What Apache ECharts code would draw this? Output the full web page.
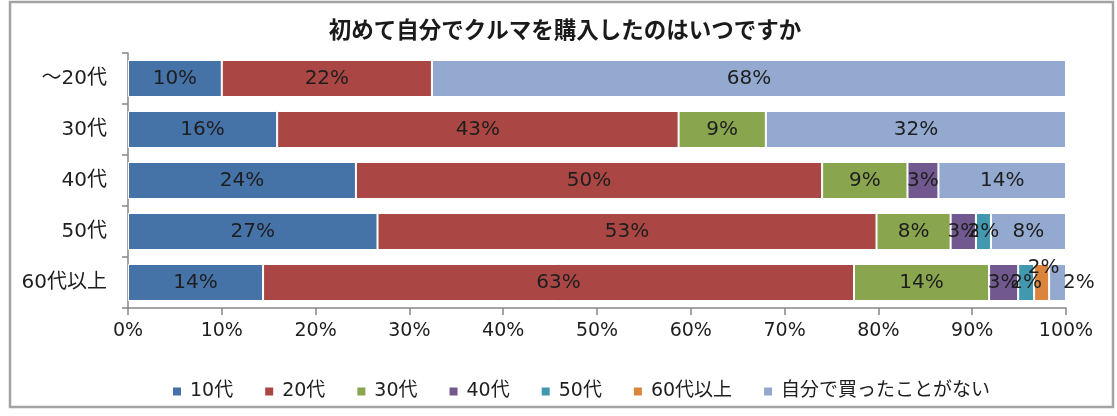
<!DOCTYPE html>
<html>
<head>
<meta charset="utf-8">
<script src="https://cdn.jsdelivr.net/npm/echarts@6/dist/echarts.min.js"></script>
<style>html,body{margin:0;padding:0;background:#fff}#c{width:1117px;height:416px}</style>
</head>
<body>
<div id="c"></div>
<script>
const categories = ['～20代', '30代', '40代', '50代', '60代以上'];
const seriesNames = ['10代', '20代', '30代', '40代', '50代', '60代以上', '自分で買ったことがない'];
const v10 = [10.0, 15.9, 24.3, 26.6, 14.4];
const v20 = [22.4, 42.8, 49.7, 53.2, 63.0];
const v30 = [0, 9.3, 9.1, 7.9, 14.4];
const v40 = [0, 0, 3.3, 2.7, 3.1];
const v50 = [0, 0, 0, 1.6, 1.7];
const v60 = [0, 0, 0, 0, 1.6];
const vNone = [67.6, 32.0, 13.6, 8.0, 1.8];
const xTicks = [0, 10, 20, 30, 40, 50, 60, 70, 80, 90, 100];
const colors = ['#4572A7', '#AA4643', '#89A54E', '#71588F', '#4198AF', '#DB843D', '#93A9CF'];

const allValues = [v10, v20, v30, v40, v50, v60, vNone];
const labelFont = 'DejaVu Sans, Noto Sans CJK JP, sans-serif';

const chart = echarts.init(document.getElementById('c'), null, {renderer: 'canvas'});

const series = allValues.map((vals, si) => ({
  name: seriesNames[si],
  type: 'bar',
  stack: 'total',
  barWidth: 37,
  itemStyle: {color: colors[si], borderColor: '#ffffff', borderWidth: 1},
  label: {
    show: true,
    position: 'inside',
    color: '#1e1e1e',
    fontSize: 20,
    fontFamily: labelFont,
    formatter: p => (p.value == null ? '' : Math.round(p.value) + '%')
  },
  data: vals.map((v, ci) => {
    const item = {value: v === 0 ? null : v};
    if (ci === 4 && si === 5) item.label = {offset: [2, -15]};
    if (ci === 4 && si === 6) item.label = {position: 'right', distance: -3};
    return item;
  })
}));

chart.setOption({
  animation: false,
  color: colors,
  graphic: [
    {type: 'rect', shape: {x: 10, y: 2, width: 1103, height: 405},
     style: {fill: 'none', stroke: '#a3a3a3', lineWidth: 2.5}, silent: true},
    {type: 'text', x: 565, y: 29,
     style: {text: '初めて自分でクルマを購入したのはいつですか', textAlign: 'center', textVerticalAlign: 'middle',
             font: 'bold 22.5px "Noto Sans CJK JP", sans-serif', fill: '#1a1a1a'}}
  ],
  legend: {
    data: seriesNames,
    left: 166,
    top: 377,
    icon: 'rect',
    itemWidth: 10,
    itemHeight: 10,
    itemGap: 30,
    textStyle: {fontSize: 19, fontFamily: labelFont, color: '#1e1e1e', padding: [0, 0, 0, 3]}
  },
  grid: {left: 128, right: 51, top: 53, bottom: 108, containLabel: false},
  xAxis: {
    type: 'value',
    min: xTicks[0],
    max: xTicks[xTicks.length - 1],
    interval: 10,
    axisLine: {show: true, lineStyle: {color: '#868686', width: 1.5}},
    axisTick: {show: true, length: 7, lineStyle: {color: '#868686', width: 1.5}},
    splitLine: {show: false},
    axisLabel: {margin: 14, fontSize: 19, fontFamily: labelFont, color: '#1e1e1e', formatter: '{value}%'}
  },
  yAxis: {
    type: 'category',
    data: categories,
    inverse: true,
    axisLine: {show: true, lineStyle: {color: '#868686', width: 1.5}},
    axisTick: {show: true, length: 6, lineStyle: {color: '#868686', width: 1.5}},
    axisLabel: {margin: 21, fontSize: 20, fontFamily: labelFont, color: '#1e1e1e'}
  },
  series: series
});
</script>
</body>
</html>
